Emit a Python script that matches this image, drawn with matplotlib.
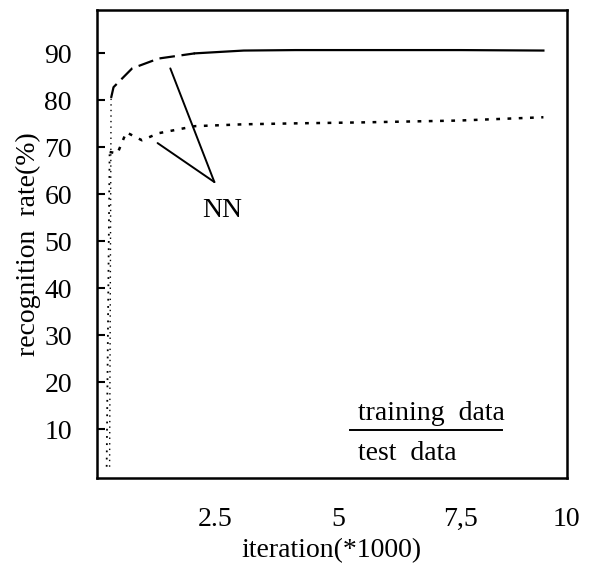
import matplotlib
matplotlib.use('Agg')
import matplotlib.pyplot as plt

plt.rcParams['font.family'] = ['Liberation Serif', 'DejaVu Serif']

# curves (x in thousands of iterations)
train_x = [0.34, 0.37, 0.42, 0.8, 1.34, 2.08, 3.08, 4.14, 5.5, 7.5, 9.2]
train_y = [2.0, 80.5, 82.8, 86.8, 88.9, 90.0, 90.6, 90.7, 90.7, 90.7, 90.6]
test_x = [0.28, 0.34, 0.5, 0.68, 1.0, 1.34, 2.08, 3.08, 4.14, 5.48, 7.48, 9.2]
test_y = [2.0, 69.0, 68.7, 73.2, 71.5, 73.0, 74.5, 74.9, 75.1, 75.3, 75.7, 76.4]

yticks = [10, 20, 30, 40, 50, 60, 70, 80, 90]
xtick_pos = [2.5, 5, 7.5, 9.68]
xtick_labels = ['2.5', '5', '7,5', '10']

nn_tip = (2.48, 62.6)
nn_from = [(1.58, 86.8), (1.32, 70.9)]

FS = 20

fig = plt.figure(figsize=(5.98, 5.64), dpi=100)
ax = fig.add_axes([0.162, 0.1525, 0.786, 0.8295])

# training: dotted rise, dashed bend, solid once it flattens
ax.plot(train_x[:2], train_y[:2], color='black', lw=1.0, linestyle=(0, (1, 3)))
k = 5
ax.plot(train_x[1:k + 1], train_y[1:k + 1], color='black', lw=1.6, linestyle=(0, (7, 3)))
ax.plot(train_x[k:], train_y[k:], color='black', lw=1.6)
ax.plot(test_x[:2], test_y[:2], color='black', lw=1.3, linestyle=(0, (1, 3)))
ax.plot(test_x[1:], test_y[1:], color='black', lw=1.8, linestyle=(0, (1.5, 3)))

# NN pointer lines
for p in nn_from:
    ax.annotate('', xy=nn_tip, xytext=p,
                arrowprops=dict(arrowstyle='-', color='black', lw=1.4, shrinkA=0, shrinkB=0))
ax.text(2.64, 56.6, 'NN', fontsize=FS, ha='center', va='center')

# legend drawn as text with rule
ax.text(5.42, 11.9, 'training  data', fontsize=FS, ha='left', va='baseline')
ax.plot([5.24, 8.36], [9.8, 9.8], color='black', lw=1.4)
ax.text(5.42, 3.4, 'test  data', fontsize=FS, ha='left', va='baseline')

ax.set_xlim(0.08, 9.48)
ax.set_ylim(-0.4, 99.2)
ax.set_yticks(yticks)
ax.set_xticks(xtick_pos)
ax.set_xticklabels(xtick_labels)
ax.tick_params(axis='y', direction='in', length=6, width=1.5, pad=18, labelsize=FS)
ax.tick_params(axis='x', length=0, pad=21, labelsize=FS)

for s in ax.spines.values():
    s.set_linewidth(1.8)

ax.set_xlabel('iteration(*1000)', fontsize=FS, labelpad=4)
ax.set_ylabel('recognition  rate(%)', fontsize=FS, labelpad=2)

fig.savefig('out.png', dpi=100)
